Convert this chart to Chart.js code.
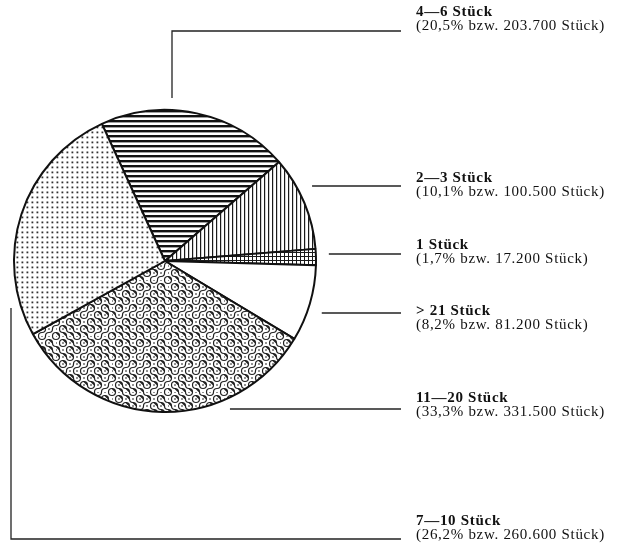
<!DOCTYPE html>
<html lang="de">
<head>
  <meta charset="UTF-8">
  <title>Verteilung nach Stückzahl</title>
  <script src="https://cdn.jsdelivr.net/npm/chart.js"></script>
  <style>
    body { margin: 0; background: #fff; }
  </style>
</head>
<body>
  <canvas id="pie" width="620" height="544"></canvas>

  <script>
    // Daten (im Uhrzeigersinn, beginnend oben links)
    const kategorien = ['4—6 Stück', '2—3 Stück', '1 Stück', '> 21 Stück', '11—20 Stück', '7—10 Stück'];
    const anteile = [20.5, 10.1, 1.7, 8.2, 33.3, 26.2];
    const stueckzahlen = [203700, 100500, 17200, 81200, 331500, 260600];

    // Lage der Beschriftungen (nur Layout)
    const textY = [12, 178, 245, 311, 398, 521];
    const linieY = [31, 186, 254, 313, 409, 539];
    const abstand = [0, 16, 13, 15, 35, 0];
    const textX = 416;
    const linieEnde = 401;

    function kachel(w, h, malen) {
      const c = document.createElement('canvas');
      c.width = w; c.height = h;
      const g = c.getContext('2d');
      g.fillStyle = '#fff';
      g.fillRect(0, 0, w, h);
      malen(g);
      return document.getElementById('pie').getContext('2d').createPattern(c, 'repeat');
    }

    const waagerecht = kachel(5, 5, g => { g.fillStyle = '#111'; g.fillRect(0, 0, 5, 2.4); });
    const senkrecht = kachel(4, 4, g => { g.fillStyle = '#1a1a1a'; g.fillRect(0, 0, 1.2, 4); });
    const gitter = kachel(4, 4, g => {
      g.fillStyle = '#1a1a1a';
      g.fillRect(0, 0, 4, 1);
      g.fillRect(0, 0, 1, 4);
    });
    const punkte = kachel(5, 5, g => { g.fillStyle = '#333'; g.fillRect(1.5, 1.5, 1.8, 1.8); });

    // Mäander-Muster aus Truchet-Kacheln
    const maeander = kachel(56, 56, g => {
      const s = 7, r = 3.5;
      g.strokeStyle = '#222';
      g.lineWidth = 1.2;
      for (let i = 0; i < 8; i++) {
        for (let j = 0; j < 8; j++) {
          const x = i * s, y = j * s;
          const dreh = ((i * 7 + j * 13 + ((i * j) % 5)) % 3) === 0;
          g.beginPath();
          if (dreh) {
            g.arc(x, y, r, 0, Math.PI / 2);
            g.moveTo(x + s - r, y + s);
            g.arc(x + s, y + s, r, Math.PI, Math.PI * 1.5);
          } else {
            g.moveTo(x + s, y + r);
            g.arc(x + s, y, r, Math.PI / 2, Math.PI);
            g.moveTo(x + r, y + s);
            g.arc(x, y + s, r, Math.PI * 1.5, Math.PI * 2);
          }
          g.stroke();
        }
      }
      g.fillStyle = '#222';
      for (let i = 0; i < 8; i++) {
        for (let j = 0; j < 8; j++) {
          g.fillRect(i * s - 0.7, j * s - 0.7, 1.4, 1.4);
        }
      }
    });

    const muster = [waagerecht, senkrecht, gitter, '#fff', maeander, punkte];

    const beschriftung = {
      id: 'beschriftung',
      afterDraw(chart) {
        const ctx = chart.ctx;
        const bogen = chart.getDatasetMeta(0).data[0];
        const cx = bogen.x, cy = bogen.y, r = bogen.outerRadius;
        ctx.save();
        ctx.strokeStyle = '#222';
        ctx.lineWidth = 1.3;
        kategorien.forEach((name, i) => {
          const ly = linieY[i];
          ctx.beginPath();
          if (i === 0) {
            ctx.moveTo(cx + 7, cy - r - 12);
            ctx.lineTo(cx + 7, ly);
            ctx.lineTo(linieEnde, ly);
          } else if (i === kategorien.length - 1) {
            ctx.moveTo(cx - r - 3, cy + 47);
            ctx.lineTo(cx - r - 3, ly);
            ctx.lineTo(linieEnde, ly);
          } else {
            const dy = ly - cy;
            const x0 = cx + Math.sqrt(Math.max(0, r * r - dy * dy)) + abstand[i];
            ctx.moveTo(x0, ly);
            ctx.lineTo(linieEnde, ly);
          }
          ctx.stroke();

          ctx.fillStyle = '#111';
          ctx.textBaseline = 'middle';
          ctx.letterSpacing = '0.7px';
          ctx.font = 'bold 15px "Liberation Serif"';
          ctx.fillText(name, textX, textY[i]);
          ctx.font = '15px "Liberation Serif"';
          const pz = anteile[i].toLocaleString('de-DE', { minimumFractionDigits: 1 });
          const st = stueckzahlen[i].toLocaleString('de-DE');
          ctx.fillText('(' + pz + '% bzw. ' + st + ' Stück)', textX, textY[i] + 14);
        });
        ctx.restore();
      }
    };

    new Chart(document.getElementById('pie'), {
      type: 'pie',
      data: {
        labels: kategorien,
        datasets: [{
          data: stueckzahlen,
          backgroundColor: muster,
          borderColor: '#111',
          borderWidth: 2
        }]
      },
      options: {
        responsive: false,
        animation: false,
        rotation: -24.7,
        layout: { padding: { left: 13, right: 303, top: 109, bottom: 131 } },
        plugins: {
          legend: { display: false },
          tooltip: { enabled: false }
        }
      },
      plugins: [beschriftung]
    });
  </script>
</body>
</html>
